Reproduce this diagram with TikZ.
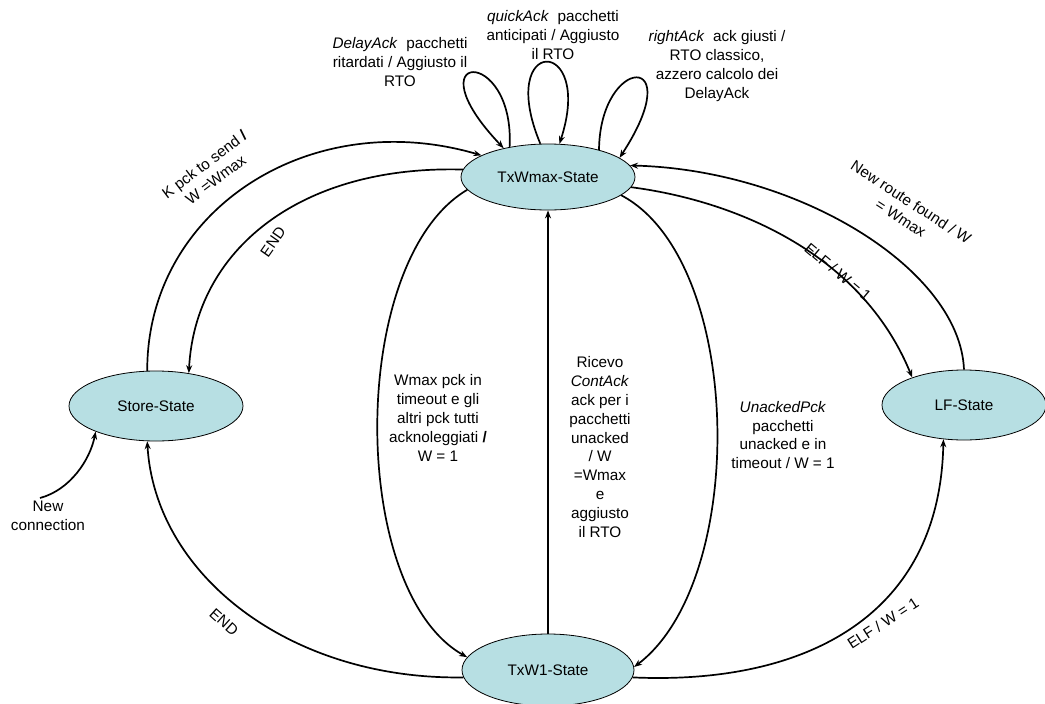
\documentclass[tikz,border=0pt]{standalone}
\usepackage{fontspec}
\setmainfont{Liberation Sans}
\usetikzlibrary{arrows.meta,shapes.geometric}
\definecolor{statefill}{RGB}{183,223,227}
\begin{document}
\begin{tikzpicture}[x=1pt,y=-1pt,
  state/.style={ellipse,draw=black,line width=0.8pt,fill=statefill,inner sep=0pt,
    font=\fontsize{15.3}{18}\selectfont},
  trans/.style={line width=1.7pt,-{Stealth[length=8pt,width=6pt]}},
  lbl/.style={align=center,inner sep=0pt,font=\fontsize{15.3}{18.8}\selectfont}]
\useasboundingbox (0,0) rectangle (1045,704);

% states
\node[state,minimum width=174pt,minimum height=66pt] (tw) at (548,177) {TxWmax-State};
\node[state,minimum width=172pt,minimum height=72pt] (t1) at (548,670) {TxW1-State};
\node[state,minimum width=174pt,minimum height=70pt] (st) at (156,406) {Store-State};
\node[state,minimum width=164pt,minimum height=70pt] (lf) at (964,405) {LF-State};
\coordinate (nc) at (40,498);

% self loops on TxWmax
\draw[trans] (tw.142) .. controls (515,45) and (410,50) .. (tw.147);
\draw[trans] (tw.103) .. controls (495,35) and (595,35) .. (tw.71);
\draw[trans] (tw.28) .. controls (600,55) and (690,50) .. (tw.15);

% transitions
\draw[trans] (st.104) .. controls (147,210) and (310,105) .. (tw.162);
\draw[trans] (tw.175) .. controls (300,165) and (195,250) .. (st.45);
\draw[trans] (tw.189) .. controls (348,260) and (348,590) .. (t1.171);
\draw[trans] (t1.north) -- (tw.south);
\draw[trans] (tw.346) .. controls (744,260) and (749,580) .. (t1.2);
\draw[trans] (tw.353) .. controls (730,200) and (860,250) .. (lf.152);
\draw[trans] (lf.90) .. controls (960,270) and (800,170) .. (tw.8);
\draw[trans] (t1.185) .. controls (290,680) and (155,575) .. (st.256);
\draw[trans] (t1.355) .. controls (800,685) and (940,620) .. (lf.239);
\draw[trans] (nc) .. controls (70,490) and (90,460) .. (st.203);

% labels
\node[lbl] (l1) at (400,62) {\textit{DelayAck}\ \ pacchetti\\ritardati / Aggiusto il\\RTO};
\node[lbl] (l2) at (553,35) {\textit{quickAck}\ \ pacchetti\\anticipati / Aggiusto\\il RTO};
\node[lbl] (l3) at (717,66) {\textit{rightAck}\ \ ack giusti /\\RTO classico,\\azzero calcolo dei\\DelayAck};
\node[lbl,rotate=37] (l4) at (210,172) {K pck to send \textbf{/}\\W =Wmax};
\node[lbl,rotate=55] (l5) at (273,242) {END};
\node[lbl,rotate=-33] (l6) at (906,210) {New route found / W\\= Wmax};
\node[lbl,rotate=-40] (l7) at (838,272) {ELF / W = 1};
\node[lbl] (l8) at (438,418) {Wmax pck in\\timeout e gli\\altri pck tutti\\acknoleggiati \textbf{/}\\W = 1};
\node[lbl] (l9) at (600,447) {Ricevo\\\textit{ContAck}\\ack per i\\pacchetti\\unacked\\/ W\\=Wmax\\e\\aggiusto\\il RTO};
\node[lbl] (l10) at (783,435) {\textit{UnackedPck}\\pacchetti\\unacked e in\\timeout / W = 1};
\node[lbl,rotate=-42] (l11) at (224,622) {END};
\node[lbl,rotate=33] (l12) at (883,623) {ELF / W = 1};
\node[lbl] (l13) at (48,516) {New\\connection};
\end{tikzpicture}
\end{document}
